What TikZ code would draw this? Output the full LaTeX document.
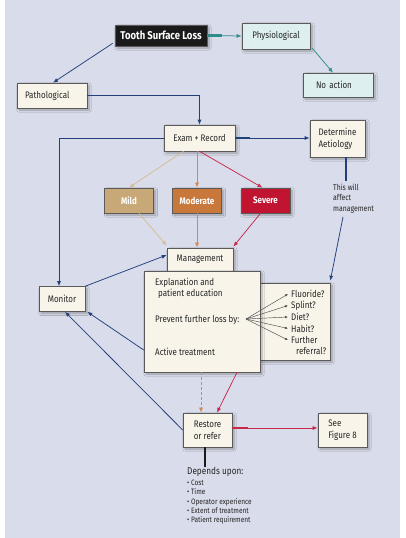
\documentclass[tikz,border=0pt]{standalone}
\usepackage{fontspec}
\setmainfont{Fira Sans}[FakeStretch=0.84]
\usetikzlibrary{arrows.meta,shadows.blur,calc}
\definecolor{bgc}{HTML}{D9DCEA}
\definecolor{cream}{HTML}{F8F4EA}
\definecolor{tealbox}{HTML}{DDEFEE}
\definecolor{boxline}{HTML}{5A5A5A}
\definecolor{navy}{HTML}{24407A}
\definecolor{tealline}{HTML}{2E8C8C}
\definecolor{tanfill}{HTML}{C9A877}
\definecolor{tanline}{HTML}{D6BC98}
\definecolor{orfill}{HTML}{C8783A}
\definecolor{orline}{HTML}{D08A50}
\definecolor{redfill}{HTML}{C01430}
\definecolor{redline}{HTML}{C8284A}
\definecolor{tslblack}{HTML}{1A1A1A}
\newcommand\fsz[2]{\fontsize{#1}{#2}\selectfont}
\begin{document}
\begin{tikzpicture}[x=1pt,y=-1pt,
  box/.style={draw=boxline, line width=0.6pt, fill=cream, inner sep=0pt, align=center,
    font=\fsz{9.5}{12}, text=black!85,
    blur shadow={shadow xshift=2pt, shadow yshift=-2pt, shadow blur steps=6, shadow opacity=30}},
  sevbox/.style={box, fill=#1, text=white, font=\fsz{9.5}{12}\bfseries, minimum width=49pt, minimum height=25pt},
  txt/.style={inner sep=1pt, font=\fsz{9.5}{12}, text=black!85, anchor=west},
  arr/.style={-{Latex[length=5pt,width=4pt]}, line width=0.75pt},
  thin arr/.style={-{Latex[length=3pt,width=2.4pt]}, line width=0.45pt, draw=black!70},
]
\useasboundingbox (0,0) rectangle (405,538);
\fill[bgc] (5,0) rectangle (400,538);

% nodes
\node[box, fill=tslblack, text=white, font=\fsz{11.3}{13}\bfseries, minimum width=92pt, minimum height=21pt] (tsl) at (161,35.5) {Tooth Surface Loss};
\node[box, fill=tealbox, minimum width=68pt, minimum height=26pt] (phys) at (276,36) {Physiological};
\node[box, fill=tealbox, minimum height=24pt, inner xsep=13pt, text width=44pt, align=left] (noact) at (338,85) {No action};
\node[box, minimum height=25pt, inner xsep=8pt, text width=54pt, align=left] (path) at (52,95.5) {Pathological};
\node[box, minimum width=71pt, minimum height=26pt] (exam) at (199.5,138) {Exam + Record};
\node[box, minimum width=55pt, minimum height=37pt, align=left] (det) at (337.5,138.5) {Determine\\Aetiology};
\node[sevbox=tanfill] (mild) at (129,200.5) {Mild};
\node[sevbox=orfill] (mod) at (197,200.5) {Moderate};
\node[sevbox=redfill] (sev) at (265.5,200.5) {Severe};
\node[box, minimum width=66pt, minimum height=23pt] (mgmt) at (200,259.5) {Management};
\node[box, minimum width=70pt, minimum height=77pt] (side) at (295,321.5) {};
\node[box, minimum width=116pt, minimum height=101pt] (big) at (202,321.5) {};
\node[box, minimum width=46pt, minimum height=25pt] (monitor) at (62,299) {Monitor};
\node[box, minimum width=49pt, minimum height=34pt, align=left] (restore) at (207.5,430) {Restore\\or refer};
\node[box, minimum width=49pt, minimum height=34pt, align=left] (seefig) at (342.5,430) {See\\Figure 8};

% text inside big box
\node[txt] (expl1) at (154,283) {Explanation and};
\node[txt] (expl2) at (157,294) {patient education};
\node[txt] (prev) at (154,320) {Prevent further loss by:};
\node[txt] (act) at (154,352) {Active treatment};
% side box texts
\node[txt] (fl) at (290,294) {Fluoride?};
\node[txt] (sp) at (290,305.5) {Splint?};
\node[txt] (di) at (290,317) {Diet?};
\node[txt] (ha) at (290,328.5) {Habit?};
\node[txt] (fu) at (290,340) {Further};
\node[txt] (re) at (295,351) {referral?};
\coordinate (conv) at (246,319);
\foreach \t in {fl,sp,di,ha,fu} \draw[thin arr] (conv) -- ([xshift=-2pt]\t.west);

% aetiology note
\node[inner sep=0pt, anchor=north west, align=left, font=\fsz{8.2}{10.3}, text=black!85] (aff) at (333,184) {This will\\affect\\management};
% depends upon
\node[inner sep=0pt, anchor=west, font=\fsz{9.8}{11}, text=black!85] (dep) at (187,472) {Depends upon:};
\node[inner sep=0pt, anchor=north west, align=left, font=\fsz{7.8}{9.3}, text=black!85] (bul) at (187,480) {\textbullet\ Cost\\\textbullet\ Time\\\textbullet\ Operator experience\\\textbullet\ Extent of treatment\\\textbullet\ Patient requirement};

% connectors
\draw[arr, tealline] (tsl.east) -- (phys.west);
\draw[tealline, line width=2.2pt] (tsl.east) -- ++(15,0);
\draw[arr, tealline] ([xshift=2pt,yshift=1pt]phys.south east) -- ([xshift=-5pt]noact.north);
\draw[arr, navy] ([xshift=-2pt,yshift=3pt]tsl.south west) -- ([xshift=1pt]path.north);
\draw[arr, navy] (path.east) -| (exam.north);
\draw[arr, navy] (exam.east) -- (exam.east -| det.west);
\draw[navy, line width=2.2pt] (exam.east) -- ++(15,0);
\draw[arr, navy] (exam.west) -| ([xshift=-3pt]monitor.north);
\draw[arr, tanline] ([xshift=-16pt]exam.south) -- (mild.north);
\draw[arr, orline] (exam.south -| mod.north) -- (mod.north);
\draw[arr, redline] (exam.south) -- ([xshift=-3pt]sev.north);
\draw[arr, tanline] ([xshift=10pt]mild.south) -- ([yshift=2pt]mgmt.north west);
\draw[arr, orline] (mod.south) -- (mod.south |- mgmt.north);
\draw[arr, redline] ([xshift=-5pt]sev.south) -- ([yshift=1pt]mgmt.north east);
\draw[arr, navy] (monitor.north east) -- ([yshift=4.5pt]mgmt.west);
\draw[navy, line width=2.2pt] ([xshift=8.5pt]det.south) -- ++(0,24);
\coordinate (affend) at (343,217);
\draw[arr, navy] (affend) -- ([yshift=2pt]side.north east);
\draw[arr, navy] ([yshift=-28.5pt]big.west) -- ([xshift=2pt]monitor.south east);
\draw[arr, navy] (restore.west) -- ([xshift=3pt]monitor.south);
\draw[arr, orline, densely dashed] ([xshift=-1pt]big.south) -- ([xshift=-1pt]big.south |- restore.north);
\draw[arr, redline] ([xshift=35pt]big.south) -- ([xshift=9.5pt]restore.north);
\draw[arr, redline] ([yshift=2pt]restore.east) -- ([yshift=2pt]restore.east -| seefig.west);
\draw[redline, line width=2.2pt] ([yshift=2pt]restore.east) -- ++(16,0);
\draw[tslblack, line width=2pt] ([xshift=-2.5pt]restore.south) -- ([xshift=-2.5pt]restore.south |- dep.north);
\end{tikzpicture}
\end{document}
